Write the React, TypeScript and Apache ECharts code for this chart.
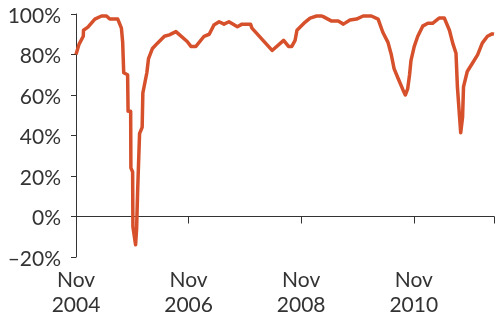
import React, { useEffect, useRef } from "react";
import * as echarts from "echarts";

// months since Nov 2004
const months = [
  0, 0.64, 1.55, 1.6, 2.54, 4.02, 5.44, 6.5, 7.2, 8.9, 9.68, 9.95, 10.17, 11.0, 11.1, 11.65, 11.7, 12.07,
  12.13, 12.7, 12.92, 13.13, 13.55, 14.1, 14.25, 15.1, 15.46, 16.3, 17.37, 18.85, 19.9, 21.3, 23.7, 24.5,
  25.56, 27.3, 28.4, 29.4, 30.5, 31.55, 32.6, 34.4, 35.4, 37.2, 37.5, 41.8, 44.26, 45.3, 46.0, 46.7, 47.1,
  48.86, 49.9, 51.3, 52.4, 52.7, 54.5, 55.9, 57.0, 58.4, 59.8, 61.2, 62.96, 64.4, 65.4, 66.5, 67.2, 67.8,
  68.6, 69.7, 70.2, 70.7, 71.1, 71.4, 72.1, 72.85, 73.9, 75.0, 76.0, 77.4, 78.5, 79.6, 80.3, 81.0, 81.3,
  81.7, 82.0, 82.4, 82.6, 83.4, 84.5, 85.6, 86.6, 87.7, 88.7, 89.1,
];
const values = [
  80, 85, 89, 92, 93.5, 97.5, 99, 99, 97.5, 97.5, 93, 86, 71, 70, 52, 52, 24, 22,
  -5, -14, -6, 12, 41, 44, 61, 71, 78, 83, 85.6, 89, 89.7, 91.3, 86.4, 84,
  84, 89, 90, 94.6, 96.2, 95, 96.2, 93.7, 95, 95, 93, 82, 87, 84, 84, 87, 92,
  96, 98, 99, 99, 98.7, 96.5, 96.5, 95, 97, 97.5, 99, 99, 97.5, 91, 86, 80, 73,
  68.5, 62.5, 60, 63, 70, 77, 84, 89, 94, 95.4, 95.4, 98, 98, 92, 85.6, 80.6, 64,
  51, 41.4, 49, 64, 71.6, 75.7, 79.8, 85.6, 89, 90.2, 90,
];
const tickLabels: Record<number, string> = {
  0: "Nov\n2004",
  24: "Nov\n2006",
  48: "Nov\n2008",
  72: "Nov\n2010",
};
const yTicks = [-20, 0, 20, 40, 60, 80, 100];

export default function App() {
  const ref = useRef<HTMLDivElement>(null);
  useEffect(() => {
    if (!ref.current) return;
    const chart = echarts.init(ref.current, undefined, { renderer: "svg" });
    const axisColor = "#333333";
    const font = "Lato, 'Open Sans', sans-serif";
    chart.setOption({
      animation: false,
      grid: { left: 76, right: 0, top: 14, bottom: 58.5, containLabel: false },
      xAxis: [
        {
          type: "value",
          min: 0,
          max: 89.1,
          interval: 24,
          axisLine: { show: true, onZero: true, lineStyle: { color: axisColor, width: 1 } },
          axisTick: { show: true, length: 7, lineStyle: { color: axisColor } },
          axisLabel: { show: false },
          splitLine: { show: false },
        },
        {
          type: "value",
          position: "bottom",
          min: 0,
          max: 89.1,
          interval: 24,
          axisLine: { show: false, onZero: false },
          axisTick: { show: false },
          splitLine: { show: false },
          axisLabel: {
            show: true,
            margin: 9,
            color: axisColor,
            fontFamily: font,
            fontSize: 21,
            lineHeight: 25,
            formatter: (v: number) => tickLabels[v] ?? "",
          },
        },
      ],
      yAxis: {
        type: "value",
        min: yTicks[0],
        max: yTicks[yTicks.length - 1],
        interval: 20,
        axisLine: { show: true, lineStyle: { color: axisColor, width: 1 } },
        axisTick: { show: true, length: 5, lineStyle: { color: axisColor } },
        splitLine: { show: false },
        axisLabel: {
          margin: 15,
          color: axisColor,
          fontFamily: font,
          fontSize: 21,
          formatter: (v: number) => (v < 0 ? "\u2013" + Math.abs(v) + "%" : v + "%"),
        },
      },
      series: [
        {
          type: "line",
          xAxisIndex: 0,
          data: months.map((m, i) => [m, values[i]]),
          symbol: "none",
          lineStyle: { color: "#D6502C", width: 3.5, join: "round" },
          clip: false,
        },
      ],
    });
    return () => chart.dispose();
  }, []);
  return (
    <div
      ref={ref}
      style={{ position: "fixed", left: 0, top: 0, width: 497, height: 316 }}
    />
  );
}
